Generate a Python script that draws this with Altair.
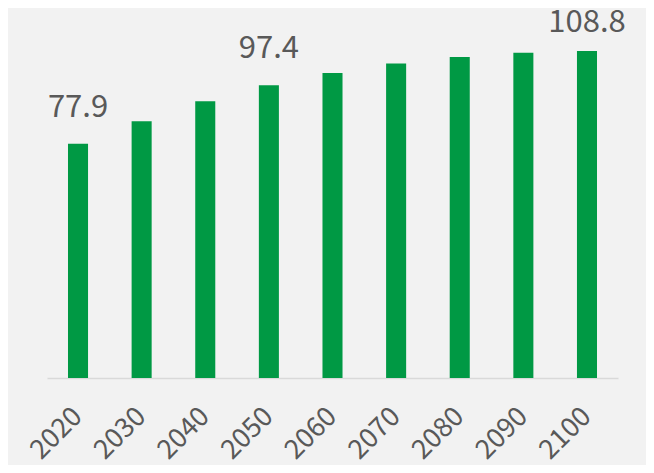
import altair as alt
import pandas as pd

years = ["2020", "2030", "2040", "2050", "2060", "2070", "2080", "2090", "2100"]
values = [77.9, 85.4, 92.1, 97.4, 101.5, 104.6, 106.8, 108.2, 108.8]
labeled = ["2020", "2050", "2100"]

df = pd.DataFrame({"year": years, "value": values})
df["label"] = [f"{v:.1f}" if y in labeled else "" for y, v in zip(years, values)]

FONT = "Noto Sans CJK JP"
GREEN = "#009944"
GRAY = "#595959"

x = alt.X("year:N", sort=years, title=None,
          scale=alt.Scale(paddingInner=0.685, paddingOuter=0.33),
          axis=alt.Axis(labelAngle=-45, labelAlign="right", labelBaseline="middle",
                        labelFont=FONT, labelFontSize=27, labelColor=GRAY,
                        labelPadding=34, ticks=False, domainColor="#d9d9d9",
                        domainWidth=1.5, grid=False, labelBound=False))
y = alt.Y("value:Q", title=None, scale=alt.Scale(domain=[0, 119.1], nice=False, zero=True),
          axis=None)

bars = alt.Chart(df).mark_bar(color=GREEN).encode(x=x, y=y)
text_main = alt.Chart(df).transform_filter(
    "datum.label != '' && datum.year != '2100'"
).mark_text(font=FONT, fontSize=31, color=GRAY, baseline="alphabetic",
            dy=-27).encode(x=x, y=y, text="label:N")
text_top = alt.Chart(df).transform_filter(
    "datum.year == '2100'"
).mark_text(font=FONT, fontSize=31, color=GRAY, baseline="alphabetic",
            dy=-19).encode(x=x, y=y, text="label:N")

chart = (bars + text_main + text_top).properties(
    width=571, height=358,
    autosize=alt.AutoSizeParams(type="none"),
    padding={"left": 39, "top": 12, "right": 28, "bottom": 87},
    background="#f2f2f2",
).configure_view(stroke=None)

chart.save("out.html", embed_options={"renderer": "svg", "actions": False})
